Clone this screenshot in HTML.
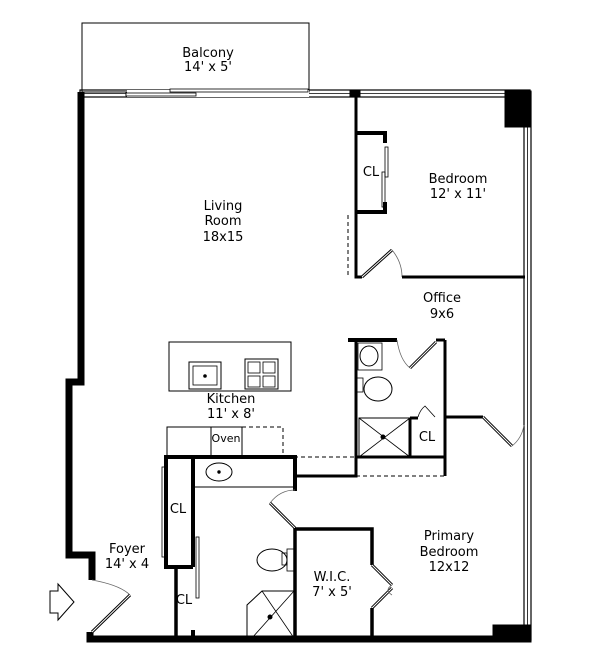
<!DOCTYPE html>
<html><head><meta charset="utf-8"><style>
html,body{margin:0;padding:0;background:#fff;width:600px;height:664px;overflow:hidden}
text{font-family:"DejaVu Sans","Liberation Sans",sans-serif;font-size:13px;fill:#000;text-anchor:middle}
</style></head><body>
<svg width="600" height="664" viewBox="0 0 600 664" xmlns="http://www.w3.org/2000/svg">
<g fill="none" stroke="#000">
<!-- balcony -->
<rect x="82" y="23" width="227" height="69" stroke-width="1"/>
<!-- top wall with windows -->
<rect x="80" y="90" width="450" height="7" stroke-width="1.2"/>
<line x1="80" y1="93.5" x2="530" y2="93.5" stroke-width="0.8"/>
<rect x="350" y="90" width="10" height="7" fill="#000"/>
<!-- sliding door gap -->
<rect x="127" y="90" width="182" height="7" fill="#fff" stroke="none"/>
<line x1="126" y1="92" x2="126" y2="96" stroke-width="1"/>
<rect x="126" y="93" width="70" height="3" stroke-width="0.8" fill="#fff"/>
<rect x="170" y="89" width="138" height="3" stroke-width="0.8" fill="#fff"/>
<!-- right wall window -->
<rect x="524" y="92" width="7" height="548" stroke-width="1.2"/>
<line x1="527.5" y1="127" x2="527.5" y2="625" stroke-width="0.8"/>
<rect x="505" y="91" width="26" height="36" fill="#000"/>
<rect x="493" y="625" width="38" height="17" fill="#000"/>
<!-- left outer wall -->
<path d="M81 92 V382 H69 V555 H92 V580" stroke-width="7"/>
<path d="M90 632 V639 H530" stroke-width="7"/>
<!-- entry door -->
<path d="M92 580 Q120 585 130 595" stroke-width="0.8" stroke="#666"/>
<path d="M130 595 L92 632" stroke-width="3"/>
<path d="M130 595 L92 632" stroke-width="1" stroke="#fff"/>
<path d="M50 591 H58 V584 L74 602 L58 620 V613 H50 Z" stroke-width="1"/>
<!-- bedroom -->
<path d="M356 97 V277 H362" stroke-width="3"/>
<path d="M356 133 H385 V143 M385 202 V212 H356" stroke-width="4"/>
<rect x="385" y="147" width="3" height="30" stroke-width="0.8"/>
<rect x="382" y="172" width="3" height="35" stroke-width="0.8"/>
<path d="M348 215 V278" stroke-width="1" stroke-dasharray="4,3"/>
<path d="M362 277 L392 250" stroke-width="3"/><path d="M362 277 L392 250" stroke-width="1" stroke="#fff"/>
<path d="M392 250 Q402 262 402 277" stroke-width="0.8" stroke="#666"/>
<path d="M402 277 H525" stroke-width="3"/>
<!-- office bath -->
<path d="M348 340 H397" stroke-width="4"/>
<path d="M356 340 V476 H294" stroke-width="3"/>
<path d="M445 340 V476" stroke-width="3"/>
<path d="M436 340 H445" stroke-width="3"/>
<path d="M397 340 Q400 360 410 368" stroke-width="0.8" stroke="#666"/>
<path d="M410 368 L436 342" stroke-width="3"/><path d="M410 368 L436 342" stroke-width="1" stroke="#fff"/>
<rect x="358" y="343" width="24" height="27" stroke-width="0.8"/>
<ellipse cx="369" cy="356" rx="9" ry="10" stroke-width="1"/>
<rect x="357" y="378" width="6" height="14" stroke-width="0.8"/>
<ellipse cx="378" cy="389" rx="14" ry="12" stroke-width="1"/>
<rect x="359" y="418" width="51" height="39" stroke-width="1"/>
<path d="M359 418 L410 457 M410 418 L359 457" stroke-width="0.8"/>
<circle cx="383" cy="437" r="2" fill="#000"/>
<path d="M356 457 H445" stroke-width="3"/>
<path d="M410 418 V457 M410 418 H418" stroke-width="3"/>
<path d="M418 417 Q420 410 425 406 L435 417" stroke-width="0.8"/>
<path d="M356 476 H445" stroke-width="1" stroke-dasharray="4,3"/>
<path d="M445 417 H483" stroke-width="3"/>
<path d="M483 417 L512 446" stroke-width="3"/><path d="M483 417 L512 446" stroke-width="1" stroke="#fff"/>
<path d="M512 446 Q522 438 524 425" stroke-width="0.8" stroke="#666"/>
<!-- kitchen island -->
<rect x="169" y="342" width="122" height="49" stroke-width="1"/>
<rect x="189" y="362" width="32" height="27" stroke-width="1"/>
<rect x="193" y="366" width="24" height="19" stroke-width="0.8"/>
<circle cx="205" cy="376" r="1.3" fill="#000"/>
<rect x="245" y="359" width="33" height="30" stroke-width="1"/>
<rect x="248" y="362" width="12" height="11" stroke-width="0.8"/><rect x="263" y="362" width="12" height="11" stroke-width="0.8"/>
<rect x="248" y="376" width="12" height="11" stroke-width="0.8"/><rect x="263" y="376" width="12" height="11" stroke-width="0.8"/>
<!-- counter -->
<path d="M167 457 V427 H242 V457 M211 427 V457" stroke-width="1"/>
<path d="M242 427 H283 V457 M294 457 H356" stroke-width="1" stroke-dasharray="4,3"/>
<!-- lower bath block -->
<path d="M164 457 H295 V491" stroke-width="4"/>
<path d="M166 457 V567 H193" stroke-width="4"/>
<path d="M193 457 V567" stroke-width="4"/>
<path d="M193 630 V640" stroke-width="4"/>
<path d="M176 567 V638" stroke-width="3.5"/>
<rect x="162" y="467" width="3" height="90" stroke-width="0.8"/>
<rect x="196" y="537" width="3" height="61" stroke-width="0.8"/>
<path d="M195 487 H295" stroke-width="1"/>
<ellipse cx="219" cy="472" rx="13" ry="9" stroke-width="1"/>
<circle cx="219" cy="472" r="1.2" fill="#000"/>
<path d="M295 490 Q280 490 270 503" stroke-width="0.8" stroke="#666"/>
<path d="M270 503 L295 528" stroke-width="3"/><path d="M270 503 L295 528" stroke-width="1" stroke="#fff"/>
<path d="M295 528 V638" stroke-width="3.5"/>
<path d="M295 529 H372 V565" stroke-width="3.5"/>
<path d="M372 565 L392 585" stroke-width="3"/><path d="M372 565 L392 585" stroke-width="1" stroke="#fff"/>
<path d="M372 608 L392 588" stroke-width="3"/><path d="M372 608 L392 588" stroke-width="1" stroke="#fff"/>
<path d="M372 608 V638" stroke-width="3.5"/>
<path d="M392 585 Q384 590 392 595" stroke-width="0.8" stroke="#666"/>
<rect x="287" y="549" width="7" height="22" stroke-width="0.8"/>
<rect x="282" y="553" width="5" height="12" stroke-width="0.8"/>
<ellipse cx="272" cy="560" rx="15" ry="11" stroke-width="1"/>
<path d="M247 638 V605 L262 591 H294" stroke-width="1"/>
<path d="M262 591 L294 638 M294 591 L252 638" stroke-width="0.8"/>
<circle cx="270" cy="617" r="2" fill="#000"/>
</g>
<text x="208" y="57">Balcony</text><text x="208" y="71">14' x 5'</text>
<text x="223" y="210">Living</text><text x="223" y="225">Room</text><text x="223" y="241">18x15</text>
<text x="371" y="176">CL</text>
<text x="458" y="183">Bedroom</text><text x="458" y="198">12' x 11'</text>
<text x="442" y="302">Office</text><text x="442" y="318">9x6</text>
<text x="231" y="403">Kitchen</text><text x="231" y="418">11' x 8'</text>
<text x="226" y="442" style="font-size:11px">Oven</text>
<text x="427" y="441">CL</text>
<text x="178" y="513">CL</text>
<text x="127" y="553">Foyer</text><text x="127" y="568">14' x 4</text>
<text x="184" y="604">CL</text>
<text x="449" y="540">Primary</text><text x="449" y="556">Bedroom</text><text x="449" y="571">12x12</text>
<text x="332" y="581">W.I.C.</text><text x="332" y="596">7' x 5'</text>
</svg>
</body></html>
